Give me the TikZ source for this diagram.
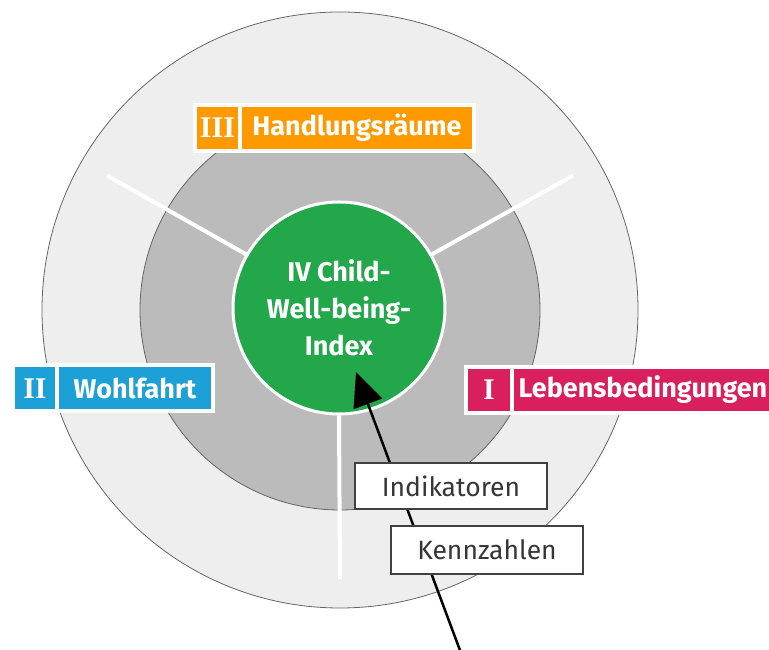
\documentclass[tikz,border=0pt]{standalone}
\usepackage{fontspec}
\setmainfont{Fira Sans}
\newfontfamily\romfont{Liberation Serif}
\usetikzlibrary{positioning,arrows.meta}
\definecolor{ringout}{HTML}{EEEEEE}
\definecolor{ringin}{HTML}{BBBBBB}
\definecolor{hubgreen}{HTML}{22A84A}
\definecolor{tagorange}{HTML}{FF9900}
\definecolor{tagblue}{HTML}{1CA0D6}
\definecolor{tagred}{HTML}{DA1F5E}
\definecolor{boxline}{HTML}{404040}
\begin{document}
\begin{tikzpicture}[x=1pt,y=1pt,
        ring/.style={circle,draw=black!60,line width=0.8pt,inner sep=0pt},
        spoke/.style={draw=white,line width=4pt},
        tag/.style={draw=white,line width=4pt,outer sep=0pt,inner sep=0pt,minimum height=46pt,text=white},
        num/.style={tag,minimum width=45pt,font=\romfont\fontsize{30}{30}\selectfont\bfseries},
        word/.style={tag,font=\fontsize{27}{30}\selectfont\bfseries},
        box/.style={draw=boxline,line width=1.2pt,fill=white,minimum width=192pt,minimum height=46pt,text=boxline!85!black,font=\fontsize{26.5}{28}\selectfont}]
            \useasboundingbox (0,0) rectangle (769,650);

            \node[ring,fill=ringout,minimum size=596pt] (A) at (340,340) {};
            \node[ring,fill=ringin,minimum size=400pt] (B) at (340,340) {};
            \node[circle,fill=hubgreen,draw=white,line width=3pt,minimum size=212pt,inner sep=0pt,
                align=center,text=white,font=\fontsize{27}{37}\selectfont\bfseries] (C) at (339,342) {IV Child-\\Well-being-\\Index};

            \coordinate (P) at ([shift={(150:269)}]B.center);
            \coordinate (Q) at ([shift={(30:269)}]B.center);
            \coordinate (R) at ([shift={(270:269)}]B.center);

            \draw[spoke] (C.150) -- (P);
            \draw[spoke] (C.30) -- (Q);
            \draw[spoke] (C.270) -- (R);

            \coordinate (F) at (461,-3);
            \coordinate (T) at (356,278);
            \draw[line width=2.5pt,-{Triangle[length=34pt,width=30pt]}] (F) -- (T);

            \node[box] (D) at (451,164) {Indikatoren};
            \node[box,minimum height=48pt] (E) at (487,100) {Kennzahlen};

            \node[num,fill=tagorange] (G) at (217.5,522) {III};
            \node[word,fill=tagorange,minimum width=234pt,right=0pt of G] (H) {Handlungsräume};

            \node[num,fill=tagblue,minimum width=44pt] (I) at (35,261.5) {II};
            \node[word,fill=tagblue,minimum width=156pt,right=0pt of I] (J) {Wohlfahrt};

            \node[num,fill=tagred,minimum width=46pt] (K) at (489,260) {I};
            \node[word,fill=tagred,minimum width=262pt,right=0pt of K] (L) {Lebensbedingungen};
        \end{tikzpicture}
\end{document}
